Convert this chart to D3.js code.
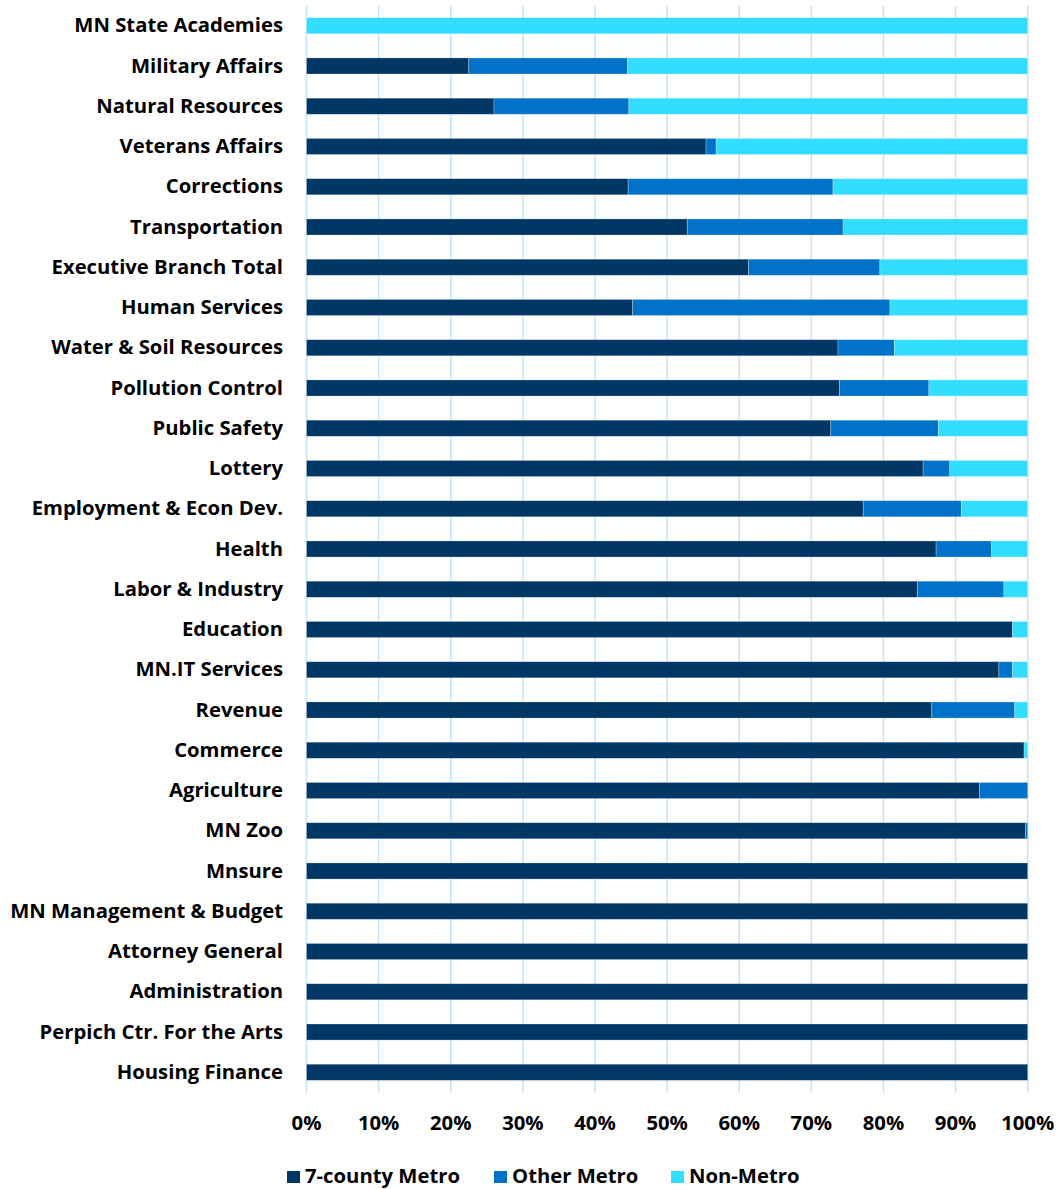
<!DOCTYPE html>
<html>
<head>
<meta charset="utf-8">
<script src="https://cdn.jsdelivr.net/npm/d3@7"></script>
<style>
  html, body { margin: 0; padding: 0; background: #fff; }
  svg { display: block; }
  text { font-family: "Open Sans", Lato, sans-serif; font-weight: 700; fill: #000; }
</style>
</head>
<body>
<svg id="chart" width="1059" height="1189"></svg>
<script>
const categories = [
  "MN State Academies", "Military Affairs", "Natural Resources", "Veterans Affairs",
  "Corrections", "Transportation", "Executive Branch Total", "Human Services",
  "Water & Soil Resources", "Pollution Control", "Public Safety", "Lottery",
  "Employment & Econ Dev.", "Health", "Labor & Industry", "Education",
  "MN.IT Services", "Revenue", "Commerce", "Agriculture", "MN Zoo", "Mnsure",
  "MN Management & Budget", "Attorney General", "Administration",
  "Perpich Ctr. For the Arts", "Housing Finance"
];
const sevenCountyMetro = [0, 22.5, 26.0, 55.4, 44.6, 52.8, 61.3, 45.2, 73.7, 73.9, 72.7, 85.5, 77.2, 87.3, 84.7, 97.9, 96.0, 86.7, 99.5, 93.3, 99.7, 100, 100, 100, 100, 100, 100];
const otherMetro       = [0, 22.0, 18.7, 1.4, 28.4, 21.6, 18.2, 35.7, 7.8, 12.4, 14.9, 3.7, 13.6, 7.7, 12.0, 0, 1.9, 11.5, 0, 6.7, 0.3, 0, 0, 0, 0, 0, 0];
const nonMetro         = [100, 55.5, 55.3, 43.2, 27.0, 25.6, 20.5, 19.1, 18.5, 13.7, 12.4, 10.8, 9.2, 5.0, 3.3, 2.1, 2.1, 1.8, 0.5, 0, 0, 0, 0, 0, 0, 0, 0];
const seriesNames = ["7-county Metro", "Other Metro", "Non-Metro"];
const seriesColors = ["#003764", "#0072C9", "#33DDFF"];
const tickValues = [0, 0.1, 0.2, 0.3, 0.4, 0.5, 0.6, 0.7, 0.8, 0.9, 1.0];

const svg = d3.select("#chart");
const x = d3.scaleLinear().domain([0, 1]).range([306.5, 1027.7]);
const y = d3.scaleBand().domain(categories).range([5.6, 1092.4]).paddingInner(0.6).paddingOuter(0.3);

// fit font size so the longest label matches the reference width
const probe = svg.append("text").style("font-size", "20px").text("MN Management & Budget");
const w20 = probe.node().getComputedTextLength();
probe.remove();
const fs = Math.min(21, 20 * 273 / w20);

const rows = categories.map((c, i) => {
  const vals = [sevenCountyMetro[i], otherMetro[i], nonMetro[i]];
  const tot = d3.sum(vals);
  return { cat: c, "7-county Metro": vals[0] / tot, "Other Metro": vals[1] / tot, "Non-Metro": vals[2] / tot };
});
const stacked = d3.stack().keys(seriesNames)(rows);

svg.append("g").selectAll("line").data(tickValues).join("line")
  .attr("x1", d => x(d)).attr("x2", d => x(d))
  .attr("y1", 5.6).attr("y2", 1092.4)
  .attr("stroke", "#C6E3FA").attr("stroke-width", 1.5);

svg.append("g").selectAll("g").data(stacked).join("g")
  .attr("fill", (d, i) => seriesColors[i])
  .selectAll("rect").data(d => d.filter(s => s[1] - s[0] > 0)).join("rect")
  .attr("x", d => x(d[0]))
  .attr("width", d => x(d[1]) - x(d[0]))
  .attr("y", d => y(d.data.cat))
  .attr("height", y.bandwidth())
  .attr("stroke", "#ffffff").attr("stroke-opacity", 0.35).attr("stroke-width", 0.75);

svg.append("g").selectAll("text").data(categories).join("text")
  .attr("x", 283)
  .attr("y", d => y(d) + y.bandwidth() / 2 + 6.6)
  .attr("text-anchor", "end")
  .style("font-size", fs + "px")
  .text(d => d);

svg.append("g").selectAll("text").data(tickValues).join("text")
  .attr("x", d => x(d))
  .attr("y", 1130)
  .attr("text-anchor", "middle")
  .style("font-size", fs + "px")
  .text(d => d3.format(".0%")(d));

const legendX = [287, 494, 671];
const lg = svg.append("g").selectAll("g").data(seriesNames).join("g")
  .attr("transform", (d, i) => `translate(${legendX[i]},1183)`);
lg.append("rect").attr("x", 0).attr("y", -12).attr("width", 13).attr("height", 12)
  .attr("fill", (d, i) => seriesColors[i]);
lg.append("text").attr("x", 18).attr("y", 0)
  .style("font-size", fs + "px").text(d => d);
</script>
</body>
</html>
